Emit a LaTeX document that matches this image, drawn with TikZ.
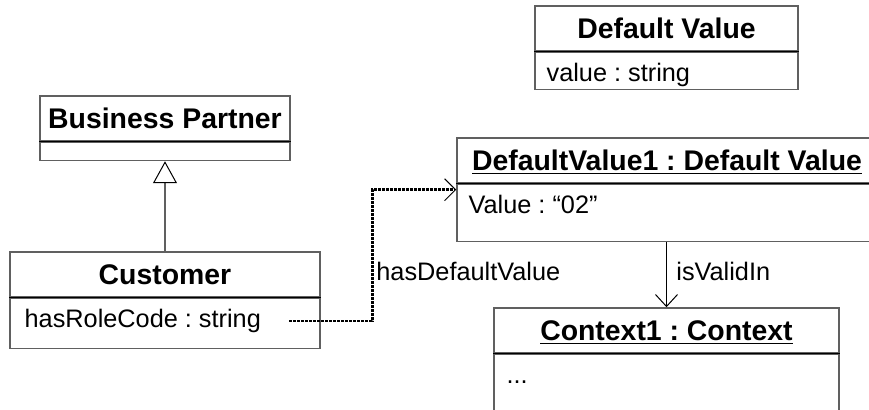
\documentclass[tikz,border=0pt]{standalone}
\usepackage{fontspec}
\setmainfont{Liberation Sans}
\usetikzlibrary{arrows.meta}

\definecolor{umlgray}{RGB}{96,96,96}
\frenchspacing

\tikzset{
  classhead/.style={draw=umlgray, line width=0.75pt, rectangle, inner sep=0pt,
    minimum height=22.5pt, text height=10.2pt, text depth=0pt,
    font=\fontsize{14.2}{17}\selectfont\bfseries},
  classbody/.style={draw=umlgray, line width=0.75pt, rectangle, inner sep=0pt, anchor=north},
  attr/.style={anchor=base west, inner sep=0pt, font=\fontsize{12.65}{15}\selectfont},
  divider/.style={black, line width=0.5pt},
  inherits/.style={draw=umlgray, line width=1pt,
    -{Triangle[open, length=11pt, width=12pt, line width=0.5pt, black]}},
  link/.style={line width=1.25pt, dash pattern=on 1.5pt off 0.5pt,
    -{Straight Barb[length=5.5pt, width=11pt, line width=0.5pt]}},
  assoc/.style={line width=0.5pt, -{Straight Barb[length=6pt, width=11pt]}},
}

\begin{document}
\begin{tikzpicture}[x=0.5pt, y=-0.5pt]
	\path[use as bounding box] (0,0) rectangle (869,410);
	\clip (0,0) rectangle (869,410);

	% classes
	\node[classhead, minimum width=125pt] (bphead) at (165,118.5) {Business Partner};
	\node[classbody, minimum width=125pt, minimum height=9pt] (bpbody) at (bphead.south) {};

	\node[classhead, minimum width=155pt] (custhead) at (165,274.5) {Customer};
	\node[classbody, minimum width=155pt, minimum height=25pt] (custbody) at (custhead.south) {};
	\node[attr] (rolecode) at ([shift={(15,29.5)}]custbody.north west) {hasRoleCode : string};

	\node[classhead, minimum width=131.5pt] (dvhead) at (666.5,28.5) {Default Value};
	\node[classbody, minimum width=131.5pt, minimum height=18.5pt] (dvbody) at (dvhead.south) {};
	\node[attr] (dvvalue) at ([shift={(12,29.5)}]dvbody.north west) {value : string};

	% instances
	\node[classhead, minimum width=210pt] (dv1head) at (667,160.5) {\underline{DefaultValue1 : Default Value}};
	\node[classbody, minimum width=210pt, minimum height=28.5pt] (dv1body) at (dv1head.south) {};
	\node[attr] (dv1value) at ([shift={(12,29.5)}]dv1body.north west) {Value : “02”};

	\node[classhead, minimum width=172.5pt] (ctxhead) at (666.5,330.5) {\underline{Context1 : Context}};
	\node[classbody, minimum width=172.5pt, minimum height=40pt] (ctxbody) at (ctxhead.south) {};
	\node[attr] (ctxdots) at ([shift={(13,30)}]ctxbody.north west) {...};

	\foreach \c in {bphead,custhead,dvhead,dv1head,ctxhead}
		\draw[divider] (\c.south west) -- (\c.south east);

	% connectors
	\draw[inherits] (custhead.north) -- (bpbody.south);

	\coordinate (roleout) at ([shift={(28,-6)}]rolecode.base east);
	\draw[link] (roleout) -- ++(83,0) |- ([yshift=-3pt]dv1body.north west);
	\node[attr] (hasdv) at (376,280.5) {hasDefaultValue};

	\draw[assoc] (ctxhead.north |- dv1body.south) -- (ctxhead.north);
	\node[attr] (valid) at (676,280.5) {isValidIn};
\end{tikzpicture}
\end{document}
